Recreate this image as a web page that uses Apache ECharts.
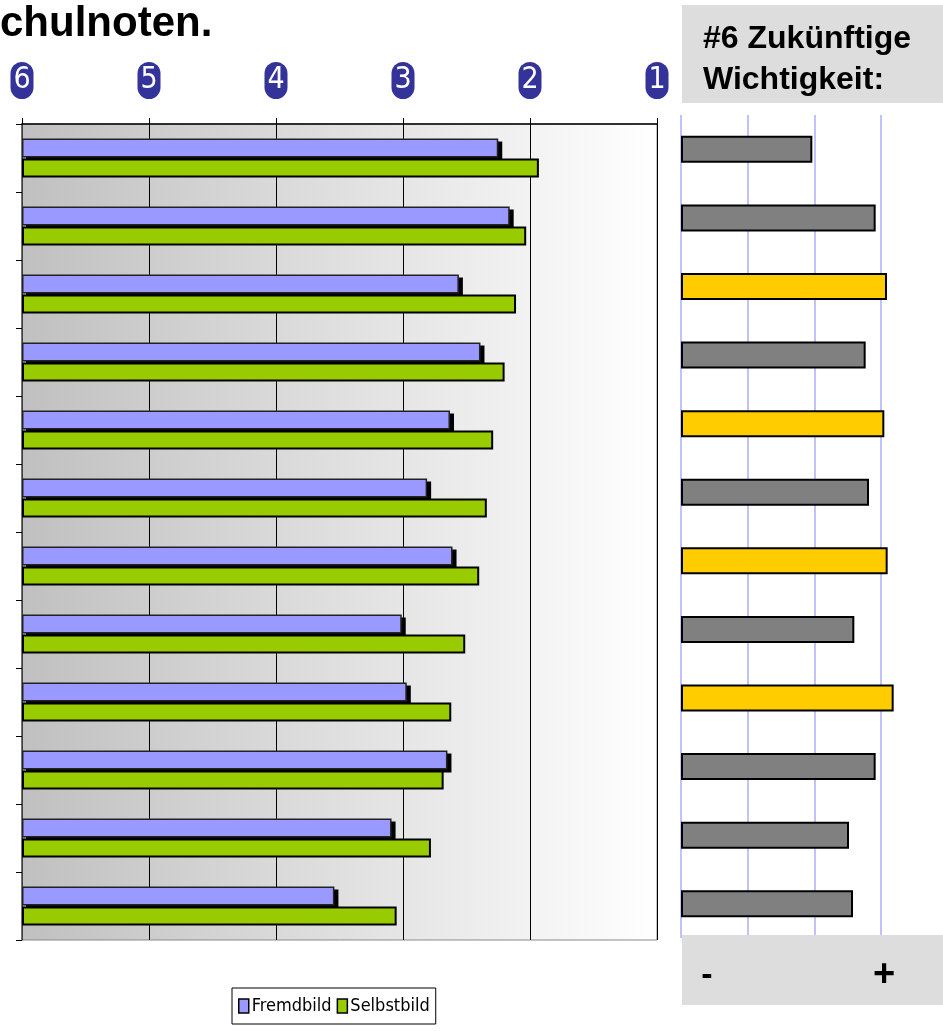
<!DOCTYPE html>
<html>
<head>
<meta charset="utf-8">
<script src="https://cdn.jsdelivr.net/npm/echarts@6/dist/echarts.min.js"></script>
<style>
html,body{margin:0;padding:0;background:#fff;}
#c{width:943px;height:1031px;}
</style>
</head>
<body>
<div id="c"></div>
<script>
// ---- data ----
var categories = ['K1','K2','K3','K4','K5','K6','K7','K8','K9','K10','K11','K12'];
var gradeTicks = ['6','5','4','3','2','1'];
var fremdbild  = [2.25, 2.16, 2.56, 2.39, 2.63, 2.81, 2.61, 3.01, 2.97, 2.65, 3.09, 3.54];
var selbstbild = [1.93, 2.03, 2.11, 2.20, 2.29, 2.34, 2.40, 2.51, 2.62, 2.68, 2.78, 3.05];
var wichtigkeit = [1.97, 2.92, 3.09, 2.77, 3.05, 2.82, 3.10, 2.60, 3.19, 2.92, 2.52, 2.58];
var hervorgehoben = [false, false, true, false, true, false, true, false, true, false, false, false];
var seriesNames = ['Fremdbild', 'Selbstbild'];
var titleText = 'chulnoten.';
var panelTitle = '#6 Zukünftige\nWichtigkeit:';

// grade (6 = worst, left) -> distance from 6
function toAxis(g){ return 6 - g; }

var chart = echarts.init(document.getElementById('c'), null, {renderer:'canvas'});
var narrow = '"Liberation Sans Narrow","DejaVu Sans Condensed","Liberation Sans",Arial,sans-serif';
var sans = '"Liberation Sans",Arial,sans-serif';
var BAR_W = 19, GAP = 1;

var option = {
  animation: false,
  backgroundColor: '#ffffff',
  legend: {
    data: [
      {name: seriesNames[0], itemStyle: {color: '#9999ff', borderColor: '#000', borderWidth: 1.5}},
      {name: seriesNames[1], itemStyle: {color: '#99cc00', borderColor: '#000', borderWidth: 1.5}}
    ],
    left: 232, top: 988,
    orient: 'horizontal',
    itemWidth: 10, itemHeight: 14, itemGap: 5,
    padding: [9, 6, 9, 6],
    borderColor: '#000', borderWidth: 1,
    backgroundColor: '#fff',
    textStyle: {fontFamily: narrow, fontSize: 18, color: '#000', padding:[0,0,0,-2]},
    icon: 'rect'
  },
  grid: [
    {left: 22, top: 124, width: 635, height: 816, show: true,
     backgroundColor: new echarts.graphic.LinearGradient(0,0,1,0,[{offset:0,color:'#c0c0c0'},{offset:1,color:'#ffffff'}]),
     borderColor: '#8a8a8a', borderWidth: 1},
    {left: 681, top: 115, width: 262, height: 823, show: false}
  ],
  xAxis: [
    {gridIndex: 0, type: 'value', position: 'top', min: 0, max: 5, interval: 1,
     axisLine: {show: true, lineStyle: {color: '#000', width: 1.5}},
     axisTick: {show: true, inside: false, length: 6, lineStyle: {color: '#000'}},
     splitLine: {show: true, lineStyle: {color: '#000', width: 1}},
     axisLabel: {
       show: true, margin: 25, showMinLabel: true, showMaxLabel: true,
       formatter: function(v){ return '{c|' + gradeTicks[Math.round(v)] + '}'; },
       rich: {c: {backgroundColor: '#333399', color: '#fff', borderRadius: 12, width: 23, height: 37,
                  lineHeight: 37, align: 'center', verticalAlign: 'middle', fontSize: 30, fontFamily: narrow}}
     }},
    {gridIndex: 1, type: 'value', min: 0, max: 3.93, interval: 1,
     axisLine: {show: false}, axisTick: {show: false}, axisLabel: {show: false},
     splitLine: {show: true, showMaxLine: false, lineStyle: {color: '#aeaef8', width: 1.5}}}
  ],
  yAxis: [
    {gridIndex: 0, type: 'category', data: categories, inverse: true,
     axisLine: {show: true, lineStyle: {color: '#555', width: 1.5}},
     axisTick: {show: true, length: 6, lineStyle: {color: '#000'}},
     axisLabel: {show: false}, splitLine: {show: false}},
    {gridIndex: 1, type: 'category', data: categories, inverse: true,
     axisLine: {show: false}, axisTick: {show: false}, axisLabel: {show: false}}
  ],
  series: [
    {name: 'Schatten', type: 'custom', xAxisIndex: 0, yAxisIndex: 0, z: 1, silent: true,
     data: fremdbild.map(function(g, i){ return [toAxis(g), i]; }),
     encode: {x: 0, y: 1},
     renderItem: function(params, api){
       var start = api.coord([0, api.value(1)]);
       var end = api.coord([api.value(0), api.value(1)]);
       var top = start[1] - BAR_W - GAP / 2;
       return {type: 'rect', shape: {x: start[0] + 4, y: top + 3, width: end[0] - start[0], height: BAR_W},
               style: {fill: '#000'}};
     }},
    {name: seriesNames[0], type: 'bar', xAxisIndex: 0, yAxisIndex: 0, z: 2,
     data: fremdbild.map(toAxis), barWidth: BAR_W, barGap: (GAP / BAR_W * 100) + '%',
     itemStyle: {color: '#9999ff', borderColor: '#222', borderWidth: 1.5}},
    {name: seriesNames[1], type: 'bar', xAxisIndex: 0, yAxisIndex: 0, z: 3,
     data: selbstbild.map(toAxis), barWidth: BAR_W,
     itemStyle: {color: '#99cc00', borderColor: '#000', borderWidth: 2}},
    {name: 'Wichtigkeit', type: 'bar', xAxisIndex: 1, yAxisIndex: 1,
     data: wichtigkeit.map(function(v, i){
       return {value: v, itemStyle: {color: hervorgehoben[i] ? '#ffcc00' : '#808080'}};
     }),
     barWidth: 27,
     itemStyle: {borderColor: '#000', borderWidth: 2}}
  ],
  graphic: [
    {type: 'text', left: 0, top: 3, z: 10,
     style: {text: titleText, font: 'bold 42px ' + sans, fill: '#000'}},
    {type: 'rect', shape: {x: 682, y: 5, width: 261, height: 98}, style: {fill: '#dddddd'}, z: 5},
    {type: 'text', x: 703, y: 19, z: 10,
     style: {text: panelTitle, font: 'bold 32px ' + sans, fill: '#000', lineHeight: 41}},
    {type: 'rect', shape: {x: 682, y: 935, width: 261, height: 70}, style: {fill: '#dddddd'}, z: 5},
    {type: 'text', x: 707, y: 976, z: 10,
     style: {text: '-', font: 'bold 34px ' + sans, fill: '#000', textAlign: 'center', textVerticalAlign: 'middle'}},
    {type: 'text', x: 884, y: 976, z: 10,
     style: {text: '+', font: 'bold 38px ' + sans, fill: '#000', textAlign: 'center', textVerticalAlign: 'middle'}}
  ]
};
chart.setOption(option);
</script>
</body>
</html>
